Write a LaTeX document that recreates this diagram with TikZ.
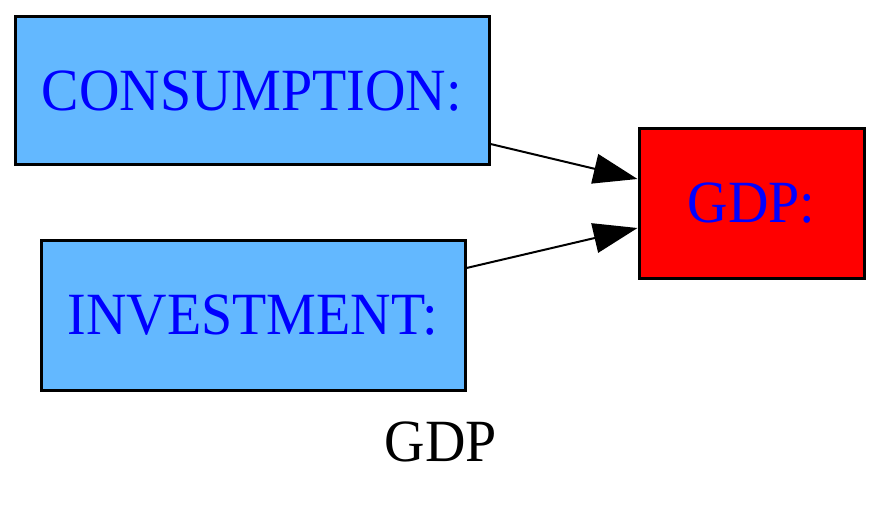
\documentclass[tikz,border=0pt]{standalone}
\usepackage{fontspec}
\usepackage{graphicx}
\setmainfont{Liberation Serif}
\usetikzlibrary{arrows.meta,calc}
\definecolor{boxblue}{HTML}{63B8FF}
\definecolor{txtblue}{HTML}{0000FF}
\newcommand\vstr[1]{\scalebox{1}[1.07]{#1}}
\begin{document}
\begin{tikzpicture}[x=1pt,y=-1pt,
  box/.style={draw=black,line width=3pt,inner sep=0pt,font=\fontsize{56}{60}\selectfont,text=txtblue},
  edge/.style={line width=2pt,-{Triangle[length=44pt,width=30pt]}}]
\useasboundingbox (0,0) rectangle (882,510);
\node[box,fill=boxblue,minimum width=474pt,minimum height=148pt] (c) at (252,91) {\vstr{CONSUMPTION:}};
\node[box,fill=boxblue,minimum width=424pt,minimum height=149pt] (i) at (253,315.5) {\vstr{INVESTMENT:}};
\node[box,fill=red,minimum width=225pt,minimum height=149pt] (g) at (751.5,203.5) {\vstr{GDP:}};
\node[font=\fontsize{56}{60}\selectfont,inner sep=0pt,anchor=base] (lbl) at (441,461) {\vstr{GDP}};
\draw[edge] ($(c.east)+(0,53)$) -- ($(g.west)+(0,-24.5)$);
\draw[edge] ($(i.east)+(0,-47.5)$) -- ($(g.west)+(0,24.5)$);
\end{tikzpicture}
\end{document}
